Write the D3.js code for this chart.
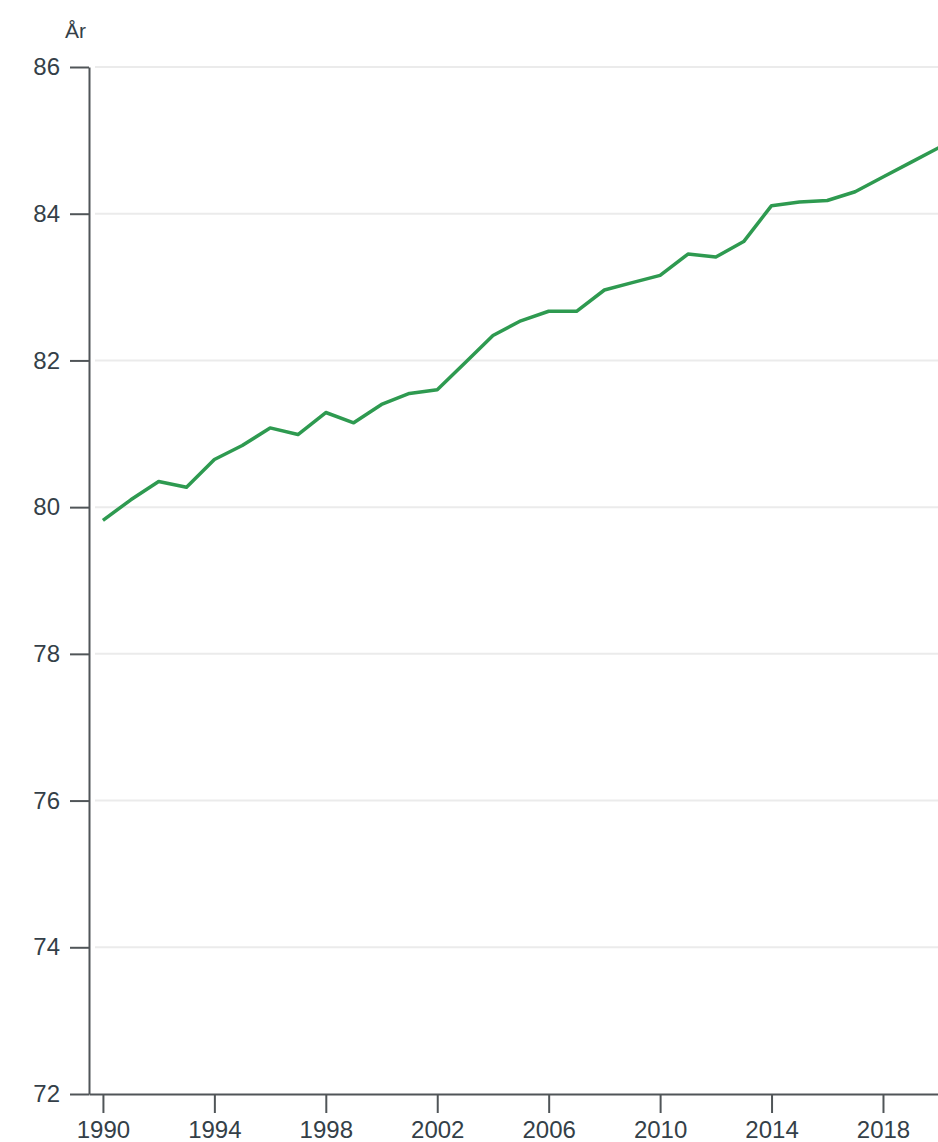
<!DOCTYPE html>
<html>
<head>
<meta charset="utf-8">
<script src="https://cdn.jsdelivr.net/npm/d3@7"></script>
<style>
  html, body { margin: 0; padding: 0; background: #fff; overflow: hidden; }
  svg { display: block; }
</style>
</head>
<body>
<svg id="chart"></svg>
<script>
// life expectancy, years
const years = [
  1990, 1991, 1992, 1993, 1994, 1995, 1996, 1997, 1998, 1999,
  2000, 2001, 2002, 2003, 2004, 2005, 2006, 2007, 2008, 2009,
  2010, 2011, 2012, 2013, 2014, 2015, 2016, 2017, 2018, 2019, 2020
];
const values = [
  79.82, 80.10, 80.35, 80.27, 80.65, 80.84, 81.08, 80.99, 81.29, 81.15,
  81.40, 81.55, 81.60, 81.97, 82.34, 82.54, 82.67, 82.67, 82.96, 83.06,
  83.16, 83.45, 83.41, 83.62, 84.11, 84.16, 84.18, 84.30, 84.50, 84.70, 84.90
];
const yTicks = [72, 74, 76, 78, 80, 82, 84, 86];
const xTicks = [1990, 1994, 1998, 2002, 2006, 2010, 2014, 2018];
const yLabel = "År";

const width = 938;
const height = 1142;
const margin = { top: 67, left: 89, bottom: 1094 };

const svg = d3.select("#chart")
  .attr("width", width)
  .attr("height", height)
  .style("font-family", "'Liberation Sans', Arial, sans-serif");

const x = d3.scaleLinear()
  .domain([1989.5, 2020])
  .range([margin.left, 938.7]);

const y = d3.scaleLinear()
  .domain([72, 86])
  .range([margin.bottom, margin.top]);

const textColor = "#343f48";
const axisColor = "#505558";

// gridlines
svg.append("g")
  .selectAll("line")
  .data(yTicks.filter(t => t !== 72))
  .join("line")
  .attr("x1", margin.left + 6)
  .attr("x2", width)
  .attr("y1", d => y(d))
  .attr("y2", d => y(d))
  .attr("stroke", "#ebebeb")
  .attr("stroke-width", 2);

// x axis
const xAxis = svg.append("g")
  .attr("transform", `translate(0,${margin.bottom})`)
  .call(d3.axisBottom(x)
    .tickValues(xTicks)
    .tickFormat(d3.format("d"))
    .tickSize(19)
    .tickSizeOuter(0)
    .tickPadding(8));

xAxis.select(".domain")
  .attr("stroke", axisColor)
  .attr("stroke-width", 2);
xAxis.selectAll(".tick line")
  .attr("stroke", axisColor)
  .attr("stroke-width", 2);
xAxis.selectAll(".tick text")
  .attr("fill", textColor)
  .attr("font-size", "24px")
  .attr("font-family", "'Liberation Sans', Arial, sans-serif");

// y axis
const yAxis = svg.append("g")
  .attr("transform", `translate(${margin.left},0)`)
  .call(d3.axisLeft(y)
    .tickValues(yTicks)
    .tickSize(19)
    .tickSizeOuter(0)
    .tickPadding(10));

yAxis.select(".domain")
  .attr("stroke", axisColor)
  .attr("stroke-width", 2);
yAxis.selectAll(".tick line")
  .attr("stroke", axisColor)
  .attr("stroke-width", 2);
yAxis.selectAll(".tick text")
  .attr("fill", textColor)
  .attr("font-size", "24px")
  .attr("font-family", "'Liberation Sans', Arial, sans-serif");

// axis title
svg.append("text")
  .attr("x", 65)
  .attr("y", 38)
  .attr("fill", textColor)
  .attr("font-size", "21px")
  .text(yLabel);

// line
const line = d3.line()
  .x((d, i) => x(years[i]))
  .y(d => y(d));

svg.append("path")
  .datum(values)
  .attr("fill", "none")
  .attr("stroke", "#2e9a50")
  .attr("stroke-width", 3.5)
  .attr("stroke-linejoin", "round")
  .attr("d", line);
</script>
</body>
</html>
